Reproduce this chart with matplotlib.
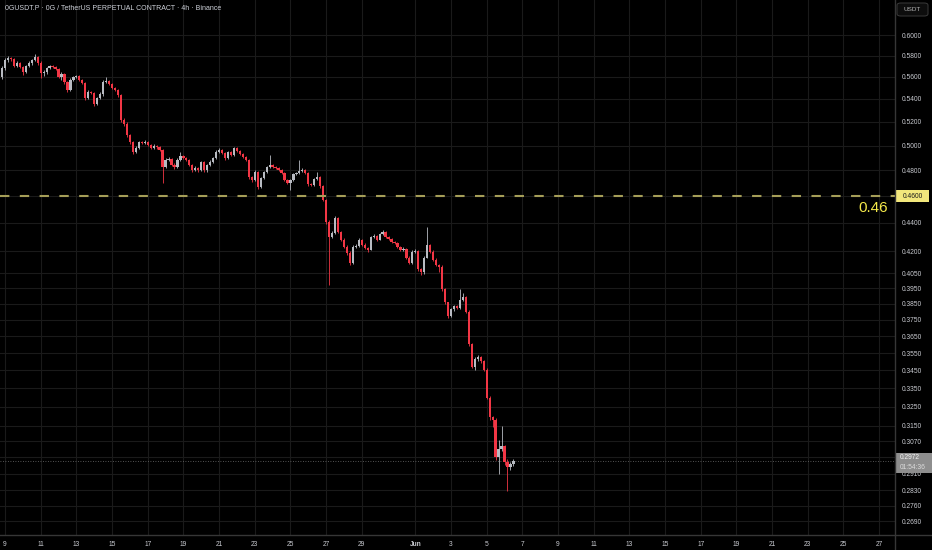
#!/usr/bin/env python3

import numpy as np
import matplotlib
matplotlib.use('Agg')  # No DISPLAY
import matplotlib.pyplot as plt
import matplotlib.dates as mdates
from matplotlib.patches import Rectangle, FancyBboxPatch
from matplotlib.lines import Line2D
from matplotlib.ticker import FixedLocator, FixedFormatter, NullLocator

plt.rcParams['font.family'] = ['Liberation Sans', 'DejaVu Sans']

W, H = 932, 550

TITLE = "0GUSDT.P \u00b7 0G / TetherUS PERPETUAL CONTRACT \u00b7 4h \u00b7 Binance"
START = '2025-05-08T20:00'   # first 4h bar

first_open = 0.5599
closes = [
    .5682, .5757, .5776, .5767, .5701, .5729, .5691, .5645, .5701, .5729,
    .5757, .5786, .5729, .5636, .5645, .5682, .5701, .5691, .5673, .5599,
    .5626, .5553, .5481, .5571, .5599, .5608, .5571, .5544, .5409, .5463,
    .5454, .5356, .5409, .5445, .5553, .5562, .5535, .5499, .5481, .5436,
    .5215, .5181, .5088, .5029, .4947, .4980, .5029, .5021, .5029, .5005,
    .4980, .4996, .4988, .4964, .4827, .4883, .4891, .4843, .4827, .4883,
    .4915, .4899, .4883, .4843, .4803, .4819, .4803, .4867, .4803, .4843,
    .4867, .4899, .4947, .4964, .4939, .4899, .4947, .4923, .4980, .4955,
    .4931, .4907, .4883, .4748, .4724, .4787, .4670, .4740, .4787, .4827,
    .4843, .4827, .4819, .4803, .4779, .4724, .4701, .4724, .4771, .4779,
    .4795, .4803, .4779, .4693, .4686, .4732, .4748, .4678, .4572, .4409,
    .4302, .4330, .4438, .4337, .4281, .4232, .4190, .4122, .4232, .4239,
    .4281, .4246, .4225, .4211, .4302, .4309, .4281, .4323, .4337, .4302,
    .4288, .4267, .4260, .4232, .4211, .4218, .4156, .4122, .4197, .4204,
    .4075, .4055, .4156, .4246, .4197, .4142, .4108, .4095, .3943, .3859,
    .3771, .3815, .3834, .3827, .3878, .3891, .3802, .3601, .3472, .3513,
    .3525, .3501, .3455, .3299, .3192, .3181, .2989, .3028, .3043, .2964,
    .2940, .2954, .2972,
]
highs = [
    .5701, .5776, .5795, .5790, .5780, .5745, .5740, .5705, .5715, .5745,
    .5770, .5815, .5800, .5745, .5660, .5695, .5712, .5712, .5700, .5685,
    .5645, .5640, .5562, .5590, .5610, .5620, .5620, .5580, .5553, .5480,
    .5475, .5465, .5420, .5460, .5570, .5599, .5575, .5545, .5510, .5490,
    .5445, .5230, .5195, .5100, .5040, .4995, .5040, .5040, .5045, .5040,
    .5015, .5010, .5005, .4998, .4975, .4895, .4905, .4900, .4855, .4895,
    .4947, .4925, .4910, .4890, .4850, .4830, .4828, .4875, .4875, .4852,
    .4878, .4910, .4960, .4980, .4972, .4945, .4958, .4955, .4990, .4990,
    .4962, .4938, .4915, .4890, .4755, .4800, .4795, .4750, .4795, .4835,
    .4923, .4852, .4835, .4826, .4810, .4785, .4730, .4732, .4780, .4790,
    .4883, .4815, .4812, .4785, .4700, .4740, .4790, .4755, .4685, .4580,
    .4420, .4340, .4450, .4445, .4345, .4290, .4240, .4198, .4245, .4250,
    .4290, .4288, .4255, .4230, .4310, .4318, .4316, .4330, .4350, .4342,
    .4308, .4295, .4272, .4266, .4238, .4228, .4225, .4165, .4205, .4212,
    .4210, .4085, .4165, .4373, .4253, .4205, .4150, .4115, .4102, .3950,
    .3865, .3825, .3845, .3840, .3943, .3920, .3898, .3810, .3610, .3525,
    .3540, .3532, .3510, .3462, .3305, .3198, .3190, .3075, .3145, .3050,
    .2980, .2965, .2980,
]
lows = [
    .5580, .5663, .5740, .5750, .5690, .5690, .5680, .5620, .5636, .5690,
    .5715, .5745, .5715, .5590, .5610, .5630, .5672, .5680, .5660, .5585,
    .5570, .5535, .5465, .5472, .5560, .5585, .5562, .5530, .5390, .5400,
    .5440, .5340, .5345, .5400, .5430, .5540, .5525, .5490, .5470, .5420,
    .5198, .5160, .5070, .5015, .4930, .4935, .4970, .5010, .5012, .4995,
    .4970, .4970, .4975, .4955, .4701, .4815, .4870, .4830, .4812, .4815,
    .4875, .4890, .4870, .4830, .4790, .4795, .4790, .4795, .4785, .4790,
    .4835, .4860, .4890, .4940, .4930, .4885, .4890, .4915, .4915, .4945,
    .4920, .4898, .4870, .4735, .4705, .4715, .4655, .4660, .4730, .4780,
    .4820, .4815, .4810, .4795, .4770, .4715, .4690, .4647, .4715, .4765,
    .4770, .4788, .4770, .4680, .4675, .4678, .4725, .4665, .4560, .4395,
    .3975, .4290, .4320, .4325, .4270, .4220, .4175, .4105, .4112, .4222,
    .4230, .4235, .4215, .4195, .4205, .4295, .4272, .4275, .4316, .4295,
    .4280, .4260, .4250, .4225, .4200, .4200, .4145, .4110, .4115, .4190,
    .4065, .4040, .4048, .4150, .4190, .4135, .4098, .4055, .3930, .3850,
    .3760, .3765, .3805, .3815, .3820, .3870, .3795, .3590, .3462, .3450,
    .3505, .3490, .3445, .3290, .3180, .3140, .2975, .2906, .3020, .2950,
    .2827, .2925, .2948,
]

price_ticks = [0.6000, 0.5800, 0.5600, 0.5400, 0.5200, 0.5000, 0.4800,
               0.4600, 0.4400, 0.4200, 0.4050, 0.3950, 0.3850, 0.3750,
               0.3650, 0.3550, 0.3450, 0.3350, 0.3250, 0.3150, 0.3070,
               0.2990, 0.2910, 0.2830, 0.2760, 0.2690]
# labels hidden behind the level box and the last-price box
hidden_ticks = [0.4600, 0.2990]

day_ticks = ['2025-05-09', '2025-05-11', '2025-05-13', '2025-05-15',
             '2025-05-17', '2025-05-19', '2025-05-21', '2025-05-23',
             '2025-05-25', '2025-05-27', '2025-05-29', '2025-06-01',
             '2025-06-03', '2025-06-05', '2025-06-07', '2025-06-09',
             '2025-06-11', '2025-06-13', '2025-06-15', '2025-06-17',
             '2025-06-19', '2025-06-21', '2025-06-23', '2025-06-25',
             '2025-06-27']
day_labels = ['9', '11', '13', '15', '17', '19', '21', '23', '25', '27',
              '29', 'Jun', '3', '5', '7', '9', '11', '13', '15', '17',
              '19', '21', '23', '25', '27']

level = 0.46
last_price = 0.2972
countdown = '01:54:36'

BG = '#000000'
GRID = '#1a1a1a'
AXIS = '#363636'
TXT = '#c9cbd1'
UP = '#b8bbc2'
DOWN = '#f23645'
LEVEL = '#a59e58'
YELLOW = '#f3e84a'

PX_PER_DAY = 17.84


def fig_y(fig, ax, p):
    disp = ax.transData.transform((ax.get_xlim()[0], p))
    return fig.transFigure.inverted().transform(disp)[1]


def main():
    o = np.array([first_open] + closes[:-1])
    c = np.array(closes)
    hi = np.array(highs)
    lo = np.array(lows)
    assert len(c) == len(hi) == len(lo)

    dates = np.datetime64(START) + np.arange(len(c)) * np.timedelta64(4, 'h')
    x = mdates.date2num(dates)

    fig = plt.figure(figsize=(W / 100, H / 100), dpi=100, facecolor=BG)
    ax = fig.add_axes([0, 15 / H, 895 / W, 535 / H])
    ax.set_facecolor(BG)
    ax.set_axisbelow(True)

    cols = np.where(c >= o, UP, DOWN)
    ax.vlines(x, lo, hi, colors=cols, lw=0.6, zorder=2)
    ax.bar(x, np.maximum(np.abs(c - o), 0.0004), bottom=np.minimum(o, c),
           width=0.125, color=cols, lw=0, zorder=3)

    ax.set_yscale('log')
    x0 = mdates.date2num(np.datetime64('2025-05-09')) - 5 / PX_PER_DAY
    ax.set_xlim(x0, x0 + 895 / PX_PER_DAY)
    ax.set_ylim(0.26294, 0.63568)

    ylabels = ['' if p in hidden_ticks else '%.4f' % p for p in price_ticks]
    ax.yaxis.set_major_locator(FixedLocator(price_ticks))
    ax.yaxis.set_major_formatter(FixedFormatter(ylabels))
    ax.yaxis.set_minor_locator(NullLocator())
    ax.yaxis.tick_right()
    ax.tick_params(axis='y', which='both', length=0, pad=5,
                   labelsize=4.8, labelcolor=TXT)

    xt = mdates.date2num(np.array(day_ticks, dtype='datetime64[D]'))
    ax.set_xticks(xt, day_labels)
    ax.tick_params(axis='x', length=0, pad=4, labelsize=4.8, labelcolor=TXT)
    for lbl in ax.get_xticklabels():
        if lbl.get_text() == 'Jun':
            lbl.set_fontweight('bold')

    ax.grid(True, color=GRID, lw=0.8)
    for s in ax.spines.values():
        s.set_visible(False)

    fig.add_artist(Line2D([0, 1], [15 / H, 15 / H], transform=fig.transFigure,
                          color=AXIS, lw=1))
    fig.add_artist(Line2D([895 / W, 895 / W], [0, 1], transform=fig.transFigure,
                          color=AXIS, lw=1))

    # horizontal level
    ax.axhline(level, color=LEVEL, lw=1.5, ls=(0, (4.5, 5)), zorder=4)
    yl = fig_y(fig, ax, level)
    fig.add_artist(Rectangle((896 / W, yl - 6 / H), 33 / W, 12 / H,
                             transform=fig.transFigure, color='#f2e77c', lw=0))
    fig.text(912.5 / W, yl, '%.4f' % level, size=4.8, color='#1a1a1a',
             ha='center', va='center')
    fig.text(873 / W, yl - 12 / H, '%.2f' % level, size=11, color=YELLOW,
             ha='center', va='center')

    # last price
    ax.axhline(last_price, color='#6e6e6e', lw=0.6, ls=(0, (1, 2)), zorder=1)
    yp = fig_y(fig, ax, last_price)
    fig.add_artist(Rectangle((896 / W, yp - 12 / H), 36 / W, 20 / H,
                             transform=fig.transFigure, color='#8e8e8e', lw=0))
    fig.text(900 / W, yp + 3 / H, '%.4f' % last_price, size=4.8,
             color='#f2f2f2', ha='left', va='center')
    fig.text(900 / W, yp - 7 / H, countdown, size=4.8, color='#dcdcdc',
             ha='left', va='center')

    # currency box
    fig.add_artist(FancyBboxPatch((897 / W, 1 - 16 / H), 31 / W, 13 / H,
                                  boxstyle='round,pad=0,rounding_size=0.004',
                                  transform=fig.transFigure,
                                  fc='#0d0d0d', ec='#3a3a3a', lw=0.7))
    fig.text(912.5 / W, 1 - 9.5 / H, 'USDT', size=4.6, color='#b5b5b5',
             ha='center', va='center')

    fig.text(5 / W, 1 - 8 / H, TITLE, size=5.0, color='#d1d4dc',
             ha='left', va='center')

    fig.savefig('out.png', dpi=100, facecolor=BG)
    plt.close('all')


if __name__ == "__main__":
    main()
